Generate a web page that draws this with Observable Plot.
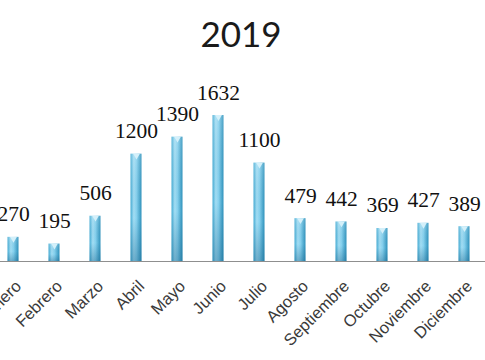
<!DOCTYPE html>
<html>
<head>
<meta charset="utf-8">
<script src="https://cdn.jsdelivr.net/npm/d3@7"></script>
<script src="https://cdn.jsdelivr.net/npm/@observablehq/plot@0.6"></script>
<style>
  html, body { margin: 0; padding: 0; background: #ffffff; }
  #chart { width: 485px; height: 360px; overflow: hidden; }
</style>
</head>
<body>
<div id="chart"></div>
<script>
const title = "2019";
const months = ["Enero", "Febrero", "Marzo", "Abril", "Mayo", "Junio", "Julio", "Agosto", "Septiembre", "Octubre", "Noviembre", "Diciembre"];
const values = [270, 195, 506, 1200, 1390, 1632, 1100, 479, 442, 369, 427, 389];

const data = months.map((m, i) => ({month: m, value: values[i]}));

const chart = Plot.plot({
  width: 485,
  height: 360,
  marginTop: 100,
  marginBottom: 99,
  marginLeft: 0,
  marginRight: 0,
  style: {background: "#ffffff", overflow: "visible"},
  x: {domain: months, range: [-7.5, 484.5], padding: 0, round: false, label: null},
  y: {domain: [0, 1800], axis: null},
  marks: [
    Plot.barY(data, {x: "month", y: "value", fill: "url(#barH)", insetLeft: 15, insetRight: 15}),
    Plot.barY(data, {x: "month", y: "value", fill: "url(#barV)", insetLeft: 15, insetRight: 15}),
    Plot.dot(data, {x: "month", y: "value", symbol: "triangle2", rotate: 180, r: 3.2, dy: 1.5, fill: "#d4f0fa", stroke: "none"}),
    Plot.ruleY([0], {stroke: "#8f8f8f", strokeWidth: 1}),
    Plot.text(data, {x: "month", y: "value", text: d => String(d.value), lineAnchor: "bottom", dy: -16, fontFamily: "Liberation Serif", fontSize: 21.5, fill: "#111111"}),
    Plot.axisX({tickSize: 0, tickPadding: 22, tickRotate: -45, fontSize: 16.5, fontFamily: "Liberation Sans, Arial, sans-serif", fill: "#3a3a3a", dx: 5, label: null}),
    Plot.text([title], {frameAnchor: "top", lineAnchor: "top", dy: -78, dx: -2, fontFamily: "Lato", fontSize: 35, fill: "#1a1a1a"})
  ]
});

const defs = d3.select(chart).insert("defs", ":first-child");
const gh = defs.append("linearGradient").attr("id", "barH").attr("x1", "0").attr("x2", "1").attr("y1", "0").attr("y2", "0");
[["0%", "#45acd4"], ["30%", "#a4def4"], ["55%", "#86d1ee"], ["100%", "#2e92bc"]].forEach(([o, c]) => gh.append("stop").attr("offset", o).attr("stop-color", c));
const gv = defs.append("linearGradient").attr("id", "barV").attr("x1", "0").attr("x2", "0").attr("y1", "0").attr("y2", "1");
[["0%", "rgba(255,255,255,0.15)"], ["60%", "rgba(20,90,130,0)"], ["100%", "rgba(15,85,125,0.35)"]].forEach(([o, c]) => gv.append("stop").attr("offset", o).attr("stop-color", c));

document.getElementById("chart").appendChild(chart);
</script>
</body>
</html>
